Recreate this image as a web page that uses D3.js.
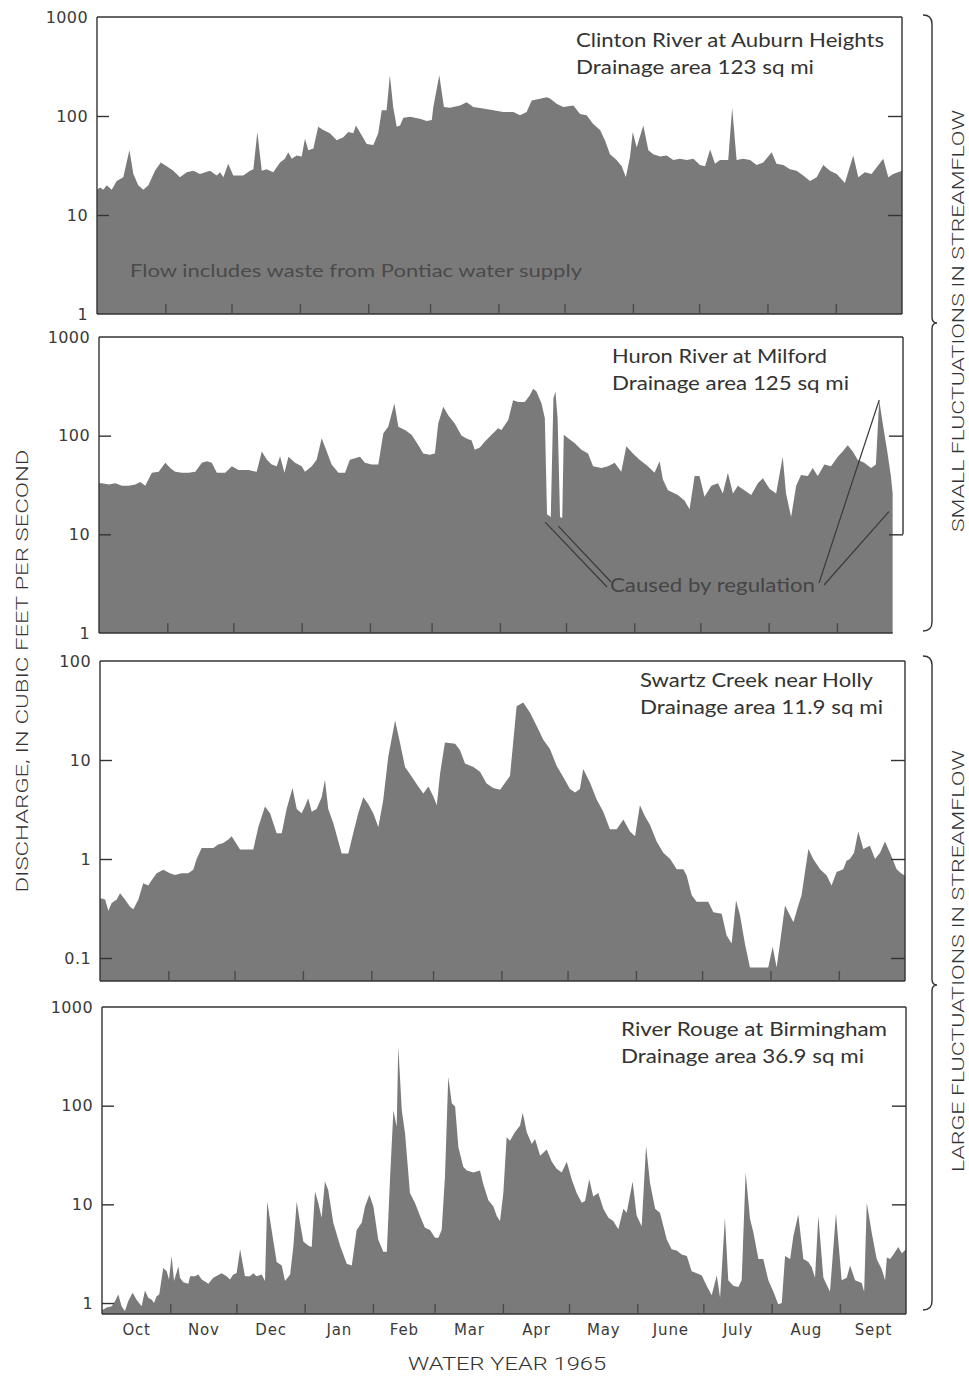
<!DOCTYPE html>
<html>
<head>
<meta charset="utf-8">
<script src="https://cdn.jsdelivr.net/npm/d3@7"></script>
<style>
  html, body { margin: 0; background: #ffffff; }
  svg { display: block; }
</style>
</head>
<body>
<svg id="chart" width="969" height="1376"></svg>
<script>
// Daily discharge, water year 1965, as [day of water year, cubic feet per second]
const clinton = [[0,18],[1.4,19],[2.9,18],[4.4,20],[6.7,18],[8.9,22],[11.9,24],[14.7,45],[16.5,26],[18.7,20],[21,18],[23.3,20],[26.3,28],[28.9,34],[31.6,31],[34.6,28],[37.6,24],[40.7,27],[43.7,28],[46.7,26],[51.2,28],[54.3,25],[55.8,27],[57.3,24],[59.5,33],[61.8,25],[66.3,25],[69.4,28],[70.9,29],[72.7,69],[74.7,28],[76.9,29],[79.9,27],[83,34],[85.2,37],[86.7,43],[88.3,37],[90.5,40],[92.8,39],[94.3,59],[95.8,45],[98.1,47],[100.3,78],[102.6,72],[105.6,67],[108.7,57],[111.7,61],[113.9,69],[116.2,67],[117.4,80],[120,64],[122.3,52],[125.3,51],[127.5,67],[129.1,114],[131.3,114],[132.8,258],[134.3,123],[135.9,78],[137.4,80],[138.9,96],[141.9,98],[146.4,94],[149.5,89],[151.8,91],[152.5,123],[155.2,258],[157.3,123],[160,121],[164.6,128],[167.6,138],[170.6,123],[175.1,119],[179.7,114],[184.2,110],[188.8,110],[191.8,102],[194.8,110],[197.1,143],[200.9,149],[203.9,155],[205.4,150],[208.4,133],[211.4,123],[216,128],[219,105],[222,102],[225,83],[228.1,72],[230.3,57],[232.6,41],[235.6,36],[237.9,31],[239.8,24],[241.7,39],[242.9,69],[244.7,48],[247.7,80],[250,45],[252.2,41],[255.3,39],[258.3,40],[261.3,36],[264.3,37],[267.4,36],[270.4,37],[273.4,32],[275.7,31],[278,46],[280.2,33],[282.5,36],[286.2,36],[288,121],[290,36],[293,37],[296.1,36],[299.1,32],[302.1,34],[305.9,43],[308.1,33],[311.2,32],[314.2,29],[317.2,28],[320.2,25],[323.3,22],[326.3,24],[329.3,32],[332.3,28],[335.4,26],[339.1,21],[342.9,40],[345.2,24],[348.2,27],[351.2,26],[356.5,37],[358.8,24],[361,26],[365,28]];

const huron = [[0,33],[1.4,33],[4.4,32],[7.4,33],[10.4,31],[13.5,31],[16.5,32],[18.7,34],[21,31],[24,42],[27.1,43],[30.1,53],[32.3,47],[34.6,43],[37.6,42],[40.7,42],[43.7,43],[46.7,53],[49,55],[51.2,53],[53.5,42],[57.3,42],[60.3,49],[63.3,45],[67.9,45],[71.6,43],[73.9,69],[76.2,57],[78.4,51],[80.7,49],[82.2,62],[84.2,42],[86,61],[89,53],[92,49],[93.5,43],[96.6,49],[98.8,57],[101.1,94],[103.4,69],[105.6,51],[108.7,42],[111.7,42],[113.9,57],[116.2,59],[118.5,61],[120.7,53],[123.8,51],[126.8,51],[129.1,106],[131.3,123],[134.1,212],[135.9,123],[138.9,114],[141.9,102],[145,80],[147.2,66],[150.2,64],[152.5,66],[154,133],[156.3,196],[158.6,160],[161.5,133],[164.6,100],[167.6,92],[169.1,90],[170.6,72],[172.9,76],[175.1,87],[178.2,102],[181.2,119],[182.7,114],[185.8,144],[188,229],[190.3,220],[193.3,220],[195.6,257],[197.1,299],[198.6,280],[200.9,212],[202.4,150],[203.4,16],[205.1,15],[206.3,240],[207.2,280],[208.2,150],[209.3,15],[210.3,14.6],[211,102],[213,94],[216,84],[219,72],[222,66],[224.3,49],[228.1,47],[231.1,49],[234.1,53],[237.1,43],[239.4,78],[242.4,66],[245.4,57],[249.2,49],[252.2,42],[254.5,55],[256,36],[258.3,28],[262.8,25],[265.8,22],[268.1,18],[270.4,39],[272.6,39],[274.9,24],[278,31],[281,33],[283.2,26],[285.5,42],[287.8,26],[290,31],[293,28],[296.1,25],[299.1,33],[301.4,37],[304.4,29],[307.4,26],[310.4,61],[311.9,26],[314.2,15],[316.5,31],[318.7,40],[321.8,39],[324,47],[326.3,39],[329.3,51],[332.3,49],[335.4,61],[337.6,69],[339.9,80],[342.2,69],[344.4,57],[347.4,53],[350.5,47],[352.7,51],[354.2,230],[355.8,133],[358,66],[359.5,39],[360.3,26]];

const swartz = [[0,0.40],[0.8,0.40],[2.3,0.39],[3.8,0.30],[5.3,0.36],[7.6,0.39],[9.1,0.45],[11.3,0.39],[13.6,0.33],[15.1,0.31],[17.4,0.39],[19.6,0.57],[21.9,0.54],[23.4,0.61],[25.7,0.72],[28.7,0.78],[31.7,0.72],[34,0.69],[37,0.72],[40,0.72],[42.3,0.78],[43.8,1.0],[46.1,1.29],[48.4,1.29],[51.4,1.29],[53.6,1.4],[55.9,1.45],[58.2,1.57],[59.7,1.7],[61.2,1.5],[63.5,1.25],[69.5,1.25],[71.8,2.1],[74.8,3.4],[77.1,2.9],[80.1,1.82],[82.4,1.82],[84.6,3.2],[87.3,5.2],[89.2,3.2],[91.4,2.9],[92.9,3.4],[94.4,4.1],[96,3.0],[98.2,3.2],[100.5,4.2],[102,6.3],[103.5,3.2],[105.8,2.3],[109.6,1.14],[112.6,1.14],[114.8,1.82],[117.1,2.9],[119.4,4.2],[121.6,3.6],[123.9,2.9],[126.2,2.1],[128.4,3.9],[130.7,10.8],[133.8,25],[136,15],[138.3,8.5],[141.3,6.8],[144.3,5.4],[146.6,4.6],[148.9,5.4],[151.1,4.3],[152.7,3.5],[154.2,7.3],[156.4,15],[161,14.6],[163.2,12.6],[165.5,9.2],[169.3,8.5],[172.3,7.6],[175.3,5.8],[178.3,5.2],[181.4,5.0],[185.9,6.9],[188.9,35],[191.9,38],[195,30],[198,22],[201,16],[204,12.9],[207.1,8.7],[210.1,6.7],[213.1,5.1],[215.4,4.7],[217.6,5.1],[219.1,8.1],[222.2,5.9],[225.2,4.0],[228.2,3.0],[231.2,2.0],[234.3,2.0],[237.3,2.5],[240.3,1.9],[242.6,1.7],[244.8,3.5],[247.1,2.7],[249.4,2.2],[252.4,1.5],[255.4,1.16],[258.5,1.0],[261.5,0.79],[264.5,0.79],[266,0.68],[268.3,0.43],[270.5,0.37],[275.8,0.37],[278.1,0.29],[281.9,0.28],[284.1,0.17],[286.4,0.14],[288.4,0.38],[290.2,0.27],[292.4,0.14],[294.7,0.08],[303,0.08],[305,0.13],[306.8,0.08],[308.3,0.14],[310.6,0.34],[312.8,0.27],[314.4,0.23],[316.6,0.34],[318.1,0.43],[321.2,1.26],[323.4,1.0],[326.5,0.79],[329.5,0.68],[331.7,0.54],[334,0.74],[337,0.79],[338.5,0.96],[340,1.0],[341.9,1.16],[343.8,1.9],[346.1,1.26],[349.1,1.36],[351.4,1.0],[353.7,1.16],[355.9,1.5],[358.2,1.16],[361.2,0.79],[363.5,0.71],[365,0.68]];

const rouge = [[0,0.86],[0.6,0.86],[2.1,0.9],[4.4,0.93],[5.9,1.04],[7.4,1.22],[8.9,0.93],[10.4,0.83],[11.9,1.04],[13.9,1.27],[15.7,1.08],[18,0.93],[19.5,1.34],[21,1.13],[22.6,1.08],[23.6,1.0],[24.8,1.17],[26,1.22],[27.8,2.27],[29.4,2.1],[30.4,1.73],[31.6,3.0],[32.7,1.67],[34.7,2.35],[35.4,1.8],[36.9,1.62],[39.2,1.57],[40,1.87],[42.2,1.87],[43.7,1.94],[45.3,1.73],[48.3,1.57],[50.5,1.8],[54.3,2.0],[56.6,1.87],[58.1,1.73],[59.6,1.94],[61.1,2.0],[62.7,3.5],[64.9,1.87],[67.2,1.87],[68.7,2.0],[70.2,1.87],[72.5,1.94],[74,1.67],[75,10.7],[77,5.5],[79.3,2.6],[81.6,2.4],[83.1,1.67],[85.4,1.94],[86.9,3.8],[88.4,10.7],[89.9,6.5],[91.4,4.2],[93.7,3.8],[95.2,3.7],[96.7,13.5],[98.2,10.3],[99.7,7.3],[101.2,17],[102.7,14],[105,6.5],[108.1,3.8],[111.1,2.5],[113.4,2.4],[115.6,5.5],[117.9,6.5],[119.4,9.5],[121.4,12.5],[123.2,9.5],[125.4,4.4],[127.7,3.3],[129.3,3.3],[130.8,19],[132.3,90],[133.8,61],[134.5,400],[136.1,90],[137.6,52],[139.8,13],[142.1,10.3],[144.4,7.6],[146.6,5.8],[148.9,5.5],[151.2,4.6],[152.7,4.6],[154.2,5.5],[155.7,19],[157.2,196],[158.8,106],[160.3,98],[161.8,38],[164,24],[165.6,22],[168.6,21],[171.6,22],[173.1,16],[175.4,11],[177.7,9.5],[179.2,7.6],[180.7,6.8],[182.2,13],[183.7,48],[185.2,44],[187.5,54],[189.8,63],[191,85],[192.8,54],[195.1,41],[196.6,46],[198.9,31],[201.9,36],[204.2,27],[206.4,23],[208.7,21],[211,27],[213.2,18],[215.5,13],[217.8,10.4],[219.3,10.8],[221.2,18],[223,12],[225.3,13],[227.6,9],[229.9,7.3],[232.1,6.8],[234.4,5.6],[236.7,9],[238.2,8.2],[240.9,17],[242.7,7.7],[245,6],[247,39],[248.8,16.5],[251.1,9],[253.3,8.2],[256.4,4.4],[258.6,3.5],[260.9,3.4],[263.2,3.1],[265.5,3.0],[267.7,2.1],[270,2.0],[272.3,1.9],[274.5,1.5],[276.8,1.2],[279.1,1.9],[280.6,1.13],[282.8,7.3],[284.3,1.7],[286.6,1.5],[288.9,1.45],[290.4,1.7],[292.2,21],[294.2,7.1],[295.7,5.2],[298,2.8],[300.2,2.8],[302.5,1.7],[304.8,1.3],[307,0.97],[308.6,1.0],[310.1,3.0],[312.4,2.8],[313.9,4.8],[316.1,7.9],[318.4,2.8],[320.7,2.6],[322.2,2.3],[323.7,1.8],[325.2,7.6],[327.5,1.8],[330.5,1.3],[333.2,8.1],[335.8,1.7],[338.1,1.8],[339.6,2.4],[341.9,1.7],[344.9,1.6],[346,1.3],[347.2,10.4],[349.4,5.2],[351.7,2.8],[354,2.2],[355.5,1.7],[356.3,2.9],[357.8,2.8],[359.3,3.1],[361.5,3.7],[363.1,3.2],[365,3.5]];

// Points on the Huron record marked as regulated flow
const huronRegulated = [[203.9,16],[209.9,14.6],[354.2,230],[358.6,17]];

const monthNames = ["Oct","Nov","Dec","Jan","Feb","Mar","Apr","May","June","July","Aug","Sept"];
const ticksClinton = [1000,100,10,1];
const ticksHuron = [1000,100,10,1];
const ticksSwartz = [100,10,1,0.1];
const ticksRouge = [1000,100,10,1];

const FILL = "#7a7a7a";
const INK = "#333333";
const SANS = "Lato, 'Open Sans', sans-serif";
const NUM = "'DejaVu Sans', sans-serif";
const CAPS = "Roboto, 'Liberation Sans', sans-serif";

const yearStart = Date.UTC(1964, 9, 1);
const yearEnd = Date.UTC(1965, 9, 1);
const toDate = day => new Date(yearStart + day * 864e5);
const monthStarts = d3.utcMonth.range(new Date(yearStart), new Date(yearEnd));

const svg = d3.select("#chart");

const panels = [
  { series: clinton, name: "Clinton River at Auburn Heights", area: "Drainage area 123 sq mi",
    left: 97, right: 902, top: 17, bottom: 314, domain: [1, 1000], labels: ticksClinton,
    leftMarks: [100, 10], rightMarks: [100, 10], textX: 576, textY: 47, nameLen: 308, areaLen: 238 },
  { series: huron, name: "Huron River at Milford", area: "Drainage area 125 sq mi",
    left: 99, right: 903, top: 337, bottom: 633, domain: [1, 1000], labels: ticksHuron,
    leftMarks: [100, 10], rightMarks: [100, 10], textX: 612, textY: 363, nameLen: 215, areaLen: 237,
    partialRight: 10 },
  { series: swartz, name: "Swartz Creek near Holly", area: "Drainage area 11.9 sq mi",
    left: 100, right: 905, top: 661, bottom: 981, domain: [0.0586, 100], labels: ticksSwartz,
    leftMarks: [10, 1, 0.1], rightMarks: [10, 1, 0.1], textX: 640, textY: 687, nameLen: 233, areaLen: 243 },
  { series: rouge, name: "River Rouge at Birmingham", area: "Drainage area 36.9 sq mi",
    left: 102, right: 906, top: 1007, bottom: 1314, domain: [0.774, 1000], labels: ticksRouge,
    leftMarks: [100, 10, 1], rightMarks: [100, 10], textX: 621, textY: 1036, nameLen: 266, areaLen: 243 }
];

panels.forEach((p, i) => {
  const x = d3.scaleUtc().domain([new Date(yearStart), new Date(yearEnd)]).range([p.left, p.right]);
  const y = d3.scaleLog().domain(p.domain).range([p.bottom, p.top]);
  p.x = x; p.y = y;
  const g = svg.append("g").attr("class", "panel-" + i);

  const clipId = "clip" + i;
  g.append("clipPath").attr("id", clipId).append("rect")
    .attr("x", p.left).attr("y", p.top).attr("width", p.right - p.left).attr("height", p.bottom - p.top);

  const area = d3.area()
    .x(d => x(toDate(d[0])))
    .y0(p.bottom)
    .y1(d => y(Math.max(d[1], p.domain[0])))
    .curve(d3.curveLinear);

  g.append("path").datum(p.series)
    .attr("clip-path", `url(#${clipId})`)
    .attr("fill", FILL)
    .attr("d", area);

  const lastX = x(toDate(p.series[p.series.length - 1][0]));

  // frame
  const frame = g.append("g").attr("stroke", INK).attr("stroke-width", 1.4).attr("fill", "none");
  frame.append("line").attr("x1", p.left).attr("x2", p.left).attr("y1", p.top).attr("y2", p.bottom);
  frame.append("line").attr("x1", p.left).attr("x2", p.right).attr("y1", p.top).attr("y2", p.top);
  const rightBottom = p.partialRight ? y(p.partialRight) : p.bottom;
  frame.append("line").attr("x1", p.right).attr("x2", p.right).attr("y1", p.top).attr("y2", rightBottom);
  frame.append("line").attr("x1", p.left).attr("x2", p.partialRight ? lastX : p.right)
    .attr("y1", p.bottom).attr("y2", p.bottom);

  // tick labels on the left
  const leftLabels = d3.axisLeft(y).tickValues(p.labels).tickSize(0).tickPadding(9)
    .tickFormat(d => d < 1 ? "0.1" : d3.format("d")(d));
  g.append("g").attr("transform", `translate(${p.left},0)`).call(leftLabels)
    .call(a => a.select(".domain").remove())
    .call(a => a.selectAll("text").attr("font-family", NUM).attr("font-size", 16)
      .attr("letter-spacing", 0.4).attr("fill", "#3a3a3a"));

  // inner tick marks, left and right
  const leftMarks = d3.axisLeft(y).tickValues(p.leftMarks).tickSize(-12).tickFormat("");
  g.append("g").attr("transform", `translate(${p.left},0)`).call(leftMarks)
    .call(a => a.select(".domain").remove())
    .call(a => a.selectAll("line").attr("stroke", INK).attr("stroke-width", 1.4));
  const rightMarks = d3.axisRight(y).tickValues(p.rightMarks).tickSize(-14).tickFormat("");
  g.append("g").attr("transform", `translate(${p.right},0)`).call(rightMarks)
    .call(a => a.select(".domain").remove())
    .call(a => a.selectAll("line").attr("stroke", INK).attr("stroke-width", 1.4));

  // month ticks along the bottom
  const monthAxis = d3.axisBottom(x).tickValues(monthStarts.slice(1)).tickSize(-10).tickFormat("");
  g.append("g").attr("transform", `translate(0,${p.bottom})`).call(monthAxis)
    .call(a => a.select(".domain").remove())
    .call(a => a.selectAll("line").attr("stroke", "#4a4a4a").attr("stroke-width", 1.4));

  // station name
  const t = g.append("g").attr("font-family", SANS).attr("font-size", 19.5).attr("fill", INK);
  t.append("text").attr("x", p.textX).attr("y", p.textY).attr("textLength", p.nameLen)
    .attr("lengthAdjust", "spacingAndGlyphs").text(p.name);
  t.append("text").attr("x", p.textX).attr("y", p.textY + 27).attr("textLength", p.areaLen)
    .attr("lengthAdjust", "spacingAndGlyphs").text(p.area);
});

// Clinton note inside the filled area
svg.append("text").attr("x", 130).attr("y", 277)
  .attr("font-family", SANS).attr("font-size", 18).attr("fill", "#4a4a4a")
  .attr("textLength", 452).attr("lengthAdjust", "spacingAndGlyphs")
  .text("Flow includes waste from Pontiac water supply");

// Huron regulation note with leader lines
{
  const p = panels[1];
  const lx = 610, ly = 592;
  svg.append("text").attr("x", lx).attr("y", ly)
    .attr("font-family", SANS).attr("font-size", 19).attr("fill", "#454545")
    .attr("textLength", 205).attr("lengthAdjust", "spacingAndGlyphs")
    .text("Caused by regulation");
  const starts = [[607, 587], [611, 582], [819, 583], [824, 585]];
  const lines = svg.append("g").attr("stroke", "#3a3a3a").attr("stroke-width", 1.2);
  huronRegulated.forEach((d, i) => {
    const tx = p.x(toDate(d[0]));
    const ty = p.y(d[1]) + (i < 2 ? 8 : 0);
    lines.append("line").attr("x1", starts[i][0]).attr("y1", starts[i][1])
      .attr("x2", tx - (i < 2 ? 3 : 0)).attr("y2", ty);
  });
}

// month names under the last panel
{
  const p = panels[3];
  const mids = monthStarts.map((m, i) => {
    const next = i < monthStarts.length - 1 ? monthStarts[i + 1] : new Date(yearEnd);
    return new Date((m.getTime() + next.getTime()) / 2);
  });
  const monthLabels = d3.axisBottom(p.x).tickValues(mids).tickSize(0).tickPadding(10)
    .tickFormat((d, i) => monthNames[i]);
  svg.append("g").attr("transform", `translate(0,${p.bottom})`).call(monthLabels)
    .call(a => a.select(".domain").remove())
    .call(a => a.selectAll("text").attr("font-family", NUM).attr("font-size", 15)
      .attr("letter-spacing", 0.8).attr("fill", "#3a3a3a"));
}

svg.append("text").attr("x", 507).attr("y", 1370).attr("text-anchor", "middle")
  .attr("font-family", CAPS).attr("font-size", 18).attr("font-weight", 300).attr("fill", INK)
  .attr("textLength", 198).attr("lengthAdjust", "spacingAndGlyphs")
  .text("WATER YEAR 1965");

// vertical titles
svg.append("text").attr("transform", "translate(28,671) rotate(-90)").attr("text-anchor", "middle")
  .attr("font-family", CAPS).attr("font-size", 17).attr("font-weight", 300).attr("fill", INK)
  .attr("textLength", 443).attr("lengthAdjust", "spacingAndGlyphs")
  .text("DISCHARGE, IN CUBIC FEET PER SECOND");

svg.append("text").attr("transform", "translate(964,321) rotate(-90)").attr("text-anchor", "middle")
  .attr("font-family", CAPS).attr("font-size", 17).attr("font-weight", 300).attr("fill", INK)
  .attr("textLength", 422).attr("lengthAdjust", "spacingAndGlyphs")
  .text("SMALL FLUCTUATIONS IN STREAMFLOW");

svg.append("text").attr("transform", "translate(964,961) rotate(-90)").attr("text-anchor", "middle")
  .attr("font-family", CAPS).attr("font-size", 17).attr("font-weight", 300).attr("fill", INK)
  .attr("textLength", 422).attr("lengthAdjust", "spacingAndGlyphs")
  .text("LARGE FLUCTUATIONS IN STREAMFLOW");

// braces grouping the panels
function brace(top, mid, bottom) {
  const xs = 923, xv = 932, xp = 937;
  return `M${xs},${top} Q${xv},${top} ${xv},${top + 9} L${xv},${mid - 6} Q${xv},${mid} ${xp},${mid}` +
         ` Q${xv},${mid} ${xv},${mid + 6} L${xv},${bottom - 9} Q${xv},${bottom} ${xs},${bottom}`;
}
svg.append("path").attr("d", brace(15, 323, 631)).attr("fill", "none").attr("stroke", INK).attr("stroke-width", 1.4);
svg.append("path").attr("d", brace(656, 985, 1310)).attr("fill", "none").attr("stroke", INK).attr("stroke-width", 1.4);
</script>
</body>
</html>
